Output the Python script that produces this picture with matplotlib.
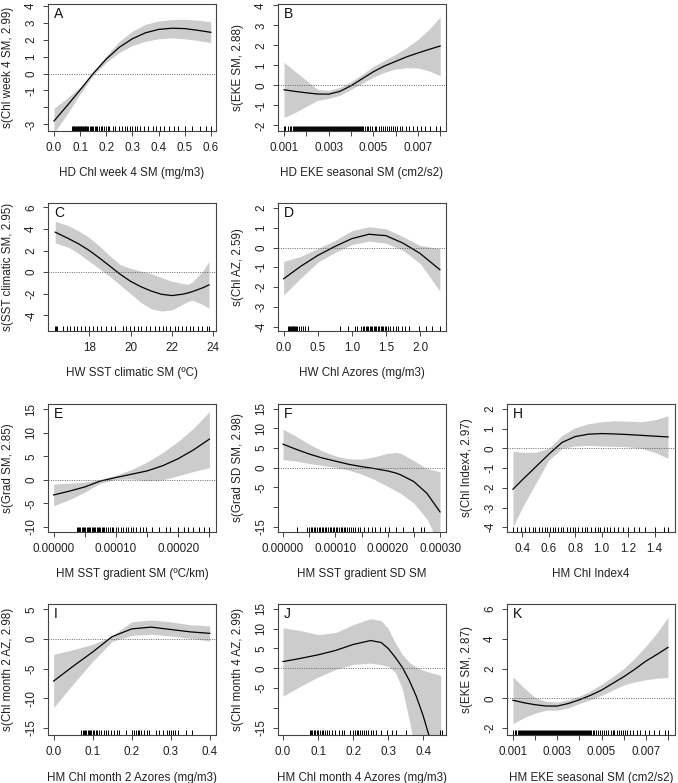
"""GAM partial-effect panels (A-K) in R plot.gam style."""

import matplotlib

matplotlib.use("Agg")
import matplotlib.pyplot as plt
import numpy as np

plt.rcParams["font.family"] = ["Liberation Sans", "DejaVu Sans"]

# ---- A: HD Chl week 4 SM
a_x = [0.0, 0.05, 0.1, 0.15, 0.2, 0.25, 0.3, 0.35, 0.4, 0.45, 0.5, 0.55, 0.6]
a_fit = [-2.8, -1.9, -0.97, 0.0, 0.85, 1.55, 2.05, 2.4, 2.6, 2.67, 2.65, 2.55, 2.43]
a_hi = [-2.05, -1.45, -0.8, 0.1, 1.05, 1.9, 2.5, 2.9, 3.1, 3.18, 3.2, 3.15, 3.05]
a_lo = [-3.5, -2.4, -1.2, -0.1, 0.65, 1.25, 1.65, 1.9, 2.05, 2.1, 2.05, 1.95, 1.82]
a_rug = [0.068, 0.072, 0.075, 0.078, 0.081, 0.084, 0.087, 0.09, 0.093, 0.096, 0.099,
         0.102, 0.105, 0.108, 0.111, 0.114, 0.117, 0.12, 0.124, 0.128, 0.132, 0.136,
         0.14, 0.145, 0.15, 0.155, 0.16, 0.166, 0.172, 0.178, 0.185, 0.19, 0.198, 0.205,
         0.212, 0.225, 0.235, 0.248, 0.262, 0.27, 0.28, 0.29, 0.3, 0.31, 0.318, 0.33,
         0.345, 0.36, 0.378, 0.39, 0.405, 0.42, 0.44, 0.458, 0.475, 0.5, 0.53, 0.56,
         0.58, 0.6]

# ---- B: HD EKE seasonal SM (x in 1e-4 units)
b_x = [10, 15, 20, 25, 30, 35, 40, 45, 50, 55, 60, 65, 70, 75, 80]
b_fit = [-0.22, -0.3, -0.37, -0.43, -0.44, -0.3, -0.02, 0.33, 0.68, 0.97, 1.2, 1.43, 1.62, 1.8, 1.97]
b_hi = [1.15, 0.7, 0.25, -0.2, -0.25, -0.1, 0.18, 0.55, 0.95, 1.25, 1.55, 1.9, 2.3, 2.8, 3.43]
b_lo = [-1.6, -1.35, -1.05, -0.75, -0.65, -0.5, -0.2, 0.1, 0.42, 0.65, 0.82, 0.88, 0.87, 0.72, 0.49]
b_rug = [10.0, 10.6, 11.9, 12.8, 13.3, 13.9, 14.4, 14.8, 15.3, 15.7, 16.2, 16.6, 17.1, 17.5,
         18.0, 18.4, 18.9, 19.3, 19.8, 20.2, 20.7, 21.1, 21.6, 22.0, 22.5, 22.9, 23.4, 23.8,
         24.3, 24.7, 25.2, 25.6, 26.1, 26.5, 27.0, 27.4, 27.9, 28.3, 28.8, 29.2, 29.7, 30.1,
         30.6, 31.0, 31.5, 31.9, 32.4, 32.8, 33.3, 33.7, 34.2, 34.6, 35.1, 35.5, 36.0, 36.4,
         36.9, 37.3, 37.8, 38.2, 38.7, 39.1, 39.6, 40.0, 40.5, 40.9, 41.4, 41.8, 42.3, 42.7,
         43.2, 43.6, 44.1, 44.5, 45.0, 45.6, 46.3, 47.0, 47.8, 48.6, 49.5, 50.6, 51.4, 52.5,
         53.3, 54.2, 55.3, 56.1, 57.0, 57.8, 58.9, 59.7, 60.8, 62.0, 63.1, 64.5, 66.2, 67.8,
         69.4, 71.5, 73.0, 75.5, 78.0, 80.0]

# ---- C: HW SST climatic SM
c_x = [16.35, 17, 17.5, 18, 18.5, 19, 19.5, 20, 20.5, 21, 21.5, 22, 22.5, 22.8, 23, 23.5, 23.8]
c_fit = [3.7, 3.1, 2.6, 2.0, 1.3, 0.55, -0.2, -0.85, -1.35, -1.75, -2.05, -2.17, -2.05, -1.92, -1.8, -1.45, -1.18]
c_hi = [4.7, 4.3, 3.8, 3.2, 2.4, 1.5, 0.7, 0.35, 0.1, -0.15, -0.5, -0.85, -1.05, -1.12, -0.9, 0.1, 1.0]
c_lo = [2.7, 2.3, 1.7, 1.0, 0.3, -0.4, -1.2, -2.0, -2.8, -3.4, -3.6, -3.5, -3.0, -2.7, -2.6, -3.0, -3.35]
c_rug = [16.32, 16.4, 16.46, 16.75, 16.91, 17.07, 17.26, 17.42, 17.58, 17.81, 18.0, 18.19,
         18.35, 18.59, 18.83, 19.07, 19.25, 19.63, 19.79, 19.98, 20.18, 20.35, 20.51, 20.75,
         20.94, 21.2, 21.39, 21.58, 21.71, 21.9, 22.13, 22.32, 22.48, 22.67, 22.86, 23.02,
         23.25, 23.47, 23.71, 23.79]

# ---- D: HW Chl Azores
d_x = [0.0, 0.25, 0.5, 0.75, 1.0, 1.25, 1.5, 1.75, 2.0, 2.29]
d_fit = [-1.58, -0.95, -0.4, 0.05, 0.45, 0.67, 0.6, 0.22, -0.3, -1.12]
d_hi = [-0.7, -0.45, -0.05, 0.35, 0.85, 1.05, 0.95, 0.55, 0.1, -0.05]
d_lo = [-2.4, -1.55, -0.75, -0.25, 0.15, 0.32, 0.22, -0.15, -0.8, -2.2]
d_rug = [0.06, 0.08, 0.1, 0.11, 0.12, 0.13, 0.14, 0.15, 0.17, 0.18, 0.2, 0.22, 0.25, 0.28,
         0.32, 0.36, 0.82, 0.95, 1.04, 1.08, 1.13, 1.16, 1.18, 1.2, 1.22, 1.24, 1.26, 1.28,
         1.3, 1.32, 1.34, 1.36, 1.38, 1.4, 1.42, 1.44, 1.46, 1.48, 1.5, 1.53, 1.56, 1.6,
         1.64, 1.68, 1.73, 1.78, 1.84, 1.98, 2.08, 2.18, 2.29]

# ---- E: HM SST gradient SM (x in 1e-5 units)
e_x = [0, 2.5, 5, 7.5, 10, 12.5, 15, 17.5, 20, 22.5, 25]
e_fit = [-3.2, -2.4, -1.5, -0.25, 0.5, 1.2, 1.9, 3.0, 4.5, 6.4, 8.65]
e_hi = [-0.9, -0.7, -0.5, 0.1, 1.0, 2.2, 3.8, 5.8, 8.2, 11.0, 14.5]
e_lo = [-5.5, -4.2, -2.6, -0.7, 0.1, 0.2, -0.2, 0.0, 0.9, 1.8, 2.6]
e_rug = [3.7, 3.9, 4.1, 4.3, 4.5, 4.7, 4.9, 5.1, 5.3, 5.5, 5.7, 5.9, 6.1, 6.3, 6.5, 6.7,
         6.9, 7.1, 7.3, 7.5, 7.7, 7.9, 8.1, 8.4, 8.7, 9.0, 9.3, 9.6, 10.0, 10.4, 10.8, 11.2,
         11.6, 12.0, 12.4, 12.8, 13.3, 13.8, 14.3, 14.8, 15.8, 16.9, 18.0, 18.6, 19.9, 21.0,
         21.6, 22.3, 23.3, 24.1, 24.9]

# ---- F: HM SST gradient SD SM (x in 1e-5 units)
f_x = [0, 2.5, 5, 7.5, 10, 12.5, 15, 17.5, 20, 21.5, 22.5, 25, 27.5, 30]
f_fit = [6.0, 4.7, 3.5, 2.5, 1.7, 0.9, 0.3, -0.2, -0.8, -1.3, -1.8, -3.5, -6.5, -11.2]
f_hi = [9.8, 8.0, 6.0, 4.3, 3.0, 2.3, 2.2, 2.8, 3.7, 3.9, 3.7, 1.8, -0.2, -1.0]
f_lo = [2.1, 1.7, 1.1, 0.6, 0.1, -0.6, -1.6, -3.0, -4.7, -5.8, -6.5, -9.0, -13.0, -20.0]
f_rug = [2.6, 4.5, 5.0, 5.3, 5.6, 5.9, 6.2, 6.5, 6.8, 7.1, 7.4, 7.7, 8.0, 8.3, 8.6, 8.9,
         9.2, 9.5, 9.8, 10.1, 10.4, 10.7, 11.0, 11.3, 11.6, 11.9, 12.2, 12.6, 13.0, 13.4,
         13.8, 14.3, 14.8, 15.5, 16.2, 17.0, 17.6, 18.5, 19.4, 20.3, 21.5, 23.0, 24.8,
         26.3, 27.0]

# ---- H: HM Chl Index4
h_x = [0.33, 0.4, 0.5, 0.6, 0.7, 0.8, 0.9, 1.0, 1.1, 1.2, 1.3, 1.4, 1.5]
h_fit = [-2.07, -1.6, -0.95, -0.3, 0.3, 0.6, 0.72, 0.75, 0.73, 0.7, 0.66, 0.62, 0.58]
h_hi = [-0.15, -0.2, -0.2, 0.0, 0.65, 1.05, 1.25, 1.35, 1.4, 1.38, 1.35, 1.45, 1.65]
h_lo = [-3.98, -3.0, -1.8, -0.6, 0.0, 0.12, 0.15, 0.12, 0.1, 0.08, 0.0, -0.2, -0.5]
h_rug = [0.33, 0.36, 0.39, 0.42, 0.45, 0.48, 0.5, 0.53, 0.55, 0.57, 0.59, 0.61, 0.63, 0.65,
         0.67, 0.69, 0.71, 0.74, 0.76, 0.78, 0.8, 0.82, 0.85, 0.87, 0.89, 0.92, 0.95, 0.97,
         0.99, 1.02, 1.04, 1.06, 1.09, 1.12, 1.16, 1.2, 1.24, 1.28, 1.33, 1.4, 1.47, 1.5]

# ---- I: HM Chl month 2 Azores
i_x = [0.0, 0.05, 0.1, 0.15, 0.2, 0.25, 0.3, 0.35, 0.4]
i_fit = [-7.1, -4.6, -2.2, 0.4, 1.7, 2.0, 1.6, 1.2, 0.95]
i_hi = [-2.6, -1.8, -0.9, 0.5, 2.9, 3.2, 2.9, 2.4, 2.2]
i_lo = [-11.6, -7.6, -3.8, -0.4, 0.6, 0.8, 0.5, 0.1, -0.35]
i_rug = [0.07, 0.075, 0.078, 0.081, 0.084, 0.087, 0.09, 0.093, 0.096, 0.1, 0.104, 0.108,
         0.112, 0.117, 0.122, 0.128, 0.134, 0.14, 0.148, 0.155, 0.162, 0.168, 0.185, 0.2,
         0.205, 0.21, 0.215, 0.22, 0.225, 0.232, 0.24, 0.245, 0.262, 0.27, 0.28, 0.29,
         0.295, 0.3, 0.305, 0.31, 0.318, 0.338, 0.355]

# ---- J: HM Chl month 4 Azores
j_x = [0.0, 0.05, 0.1, 0.15, 0.2, 0.25, 0.28, 0.3, 0.32, 0.34, 0.36, 0.38, 0.4, 0.415, 0.43, 0.45]
j_fit = [1.7, 2.5, 3.4, 4.5, 6.0, 7.0, 6.5, 5.0, 2.8, 0.3, -3.0, -7.0, -12.0, -16.5, -21.0, -28.0]
j_hi = [10.2, 9.5, 8.5, 9.0, 11.0, 12.5, 12.0, 10.0, 6.5, 3.5, 1.5, 0.3, -0.5, -0.9, -1.3, -1.8]
j_lo = [-7.0, -4.5, -2.2, -0.3, 1.0, 1.3, 0.9, 0.5, -1.0, -5.0, -13.0, -22.0, -32.0, -38.0, -44.0, -50.0]
j_rug = [0.076, 0.08, 0.084, 0.088, 0.092, 0.096, 0.1, 0.105, 0.11, 0.115, 0.12, 0.126,
         0.132, 0.14, 0.148, 0.16, 0.168, 0.175, 0.19, 0.2, 0.205, 0.21, 0.215, 0.22, 0.225,
         0.23, 0.236, 0.242, 0.25, 0.258, 0.265, 0.28, 0.298, 0.31, 0.322, 0.352, 0.448, 0.454]

# ---- K: HM EKE seasonal SM (x in 1e-4 units)
k_x = [10, 15, 20, 25, 30, 35, 40, 45, 50, 55, 60, 65, 70, 75, 80]
k_fit = [-0.13, -0.3, -0.43, -0.52, -0.52, -0.35, -0.1, 0.2, 0.55, 1.0, 1.45, 1.95, 2.5, 2.95, 3.43]
k_hi = [1.45, 0.7, 0.05, -0.2, -0.25, -0.1, 0.15, 0.5, 0.95, 1.45, 2.0, 2.7, 3.5, 4.4, 5.45]
k_lo = [-1.7, -1.3, -1.0, -0.8, -0.8, -0.65, -0.35, -0.1, 0.2, 0.55, 0.9, 1.1, 1.25, 1.35, 1.4]
k_rug = [10.0, 10.7, 11.5, 12.1, 12.6, 13.0, 13.5, 13.9, 14.4, 14.8, 15.3, 15.7, 16.2, 16.6,
         17.1, 17.6, 18.0, 18.5, 18.9, 19.4, 19.8, 20.3, 20.8, 21.2, 21.7, 22.1, 22.6, 23.0,
         23.5, 23.9, 24.4, 24.8, 25.3, 25.7, 26.2, 26.6, 27.1, 27.6, 28.0, 28.5, 28.9, 29.4,
         29.8, 30.3, 30.7, 31.2, 31.6, 32.1, 32.5, 33.0, 33.4, 33.9, 34.3, 34.8, 35.2, 35.7,
         36.1, 36.6, 37.0, 37.5, 37.9, 38.4, 38.8, 39.3, 39.7, 40.2, 40.6, 41.1, 41.5, 42.0,
         42.4, 42.9, 43.3, 43.8, 44.2, 44.7, 45.3, 46.0, 46.8, 47.5, 48.4, 49.3, 50.1, 51.0,
         52.2, 53.0, 54.1, 55.0, 55.8, 56.9, 57.7, 58.8, 59.6, 60.5, 61.7, 63.0, 64.3, 66.0,
         67.5, 69.5, 71.3, 73.5, 76.0, 78.5, 80.0]

W, H = 678, 783
COL_X = [48, 278, 507]
COL_W = 168
ROW_Y = [(4, 131), (203, 331), (404, 532), (604, 735)]
FS = 8.4


def _panel(letter, row, col, x, fit, lo, hi, rug, scale, xlim, ylim,
           xticks, xlabels, yticks, ylabels, xlab, ylab):
    top, bot = ROW_Y[row]
    ax = fig.add_axes([COL_X[col] / W, 1 - bot / H, COL_W / W, (bot - top) / H])
    x = np.asarray(x) * scale
    ax.fill_between(x, lo, hi, color="#cccccc", lw=0)
    ax.plot(x, fit, color="black", lw=0.9)
    ax.axhline(0, color="#555555", lw=0.6, ls=(0, (1.2, 1.6)))
    ax.vlines(np.asarray(rug) * scale, 0, 0.038, transform=ax.get_xaxis_transform(),
              color="black", lw=0.7)
    ax.set_xlim(xlim)
    ax.set_ylim(ylim)
    ax.set_xticks(xticks)
    ax.set_xticklabels(xlabels)
    ax.set_yticks(yticks)
    ax.set_yticklabels(ylabels, rotation=90, va="center")
    for sp in ax.spines.values():
        sp.set_color("#444444")
        sp.set_linewidth(0.8)
    ax.tick_params(direction="out", length=3.8, width=0.7, color="#444444",
                   labelsize=FS, labelcolor="#222222", pad=4.0)
    ax.set_xlabel(xlab, fontsize=FS, color="#222222")
    ax.set_ylabel(ylab, fontsize=FS, color="#222222")
    ax.xaxis.set_label_coords(0.5, -0.28)
    ax.yaxis.set_label_coords(-0.2, 0.5)
    ax.text(0.035, 0.975, letter, transform=ax.transAxes, ha="left", va="top",
            fontsize=10, color="#111111")
    return ax


def _labels(vals, fmt, skip=()):
    return ["" if i in skip else fmt.format(v) for i, v in enumerate(vals)]


fig = plt.figure(figsize=(W / 100, H / 100), dpi=100)

t = [0.0, 0.1, 0.2, 0.3, 0.4, 0.5, 0.6]
yt = [-3, -2, -1, 0, 1, 2, 3, 4]
_panel("A", 0, 0, a_x, a_fit, a_lo, a_hi, a_rug, 1.0, (-0.023, 0.62), (-3.39, 4.1),
       t, _labels(t, "{:.1f}"), yt, _labels(yt, "{}", skip=(1,)),
       "HD Chl week 4 SM (mg/m3)", "s(Chl week 4 SM, 2.99)")

t = [0.001, 0.002, 0.003, 0.004, 0.005, 0.006, 0.007, 0.008]
yt = [-2, -1, 0, 1, 2, 3, 4]
_panel("B", 0, 1, b_x, b_fit, b_lo, b_hi, b_rug, 1e-4, (0.00073, 0.00826), (-2.28, 4.07),
       t, _labels(t, "{:.3f}", skip=(1, 3, 5, 7)), yt, _labels(yt, "{}"),
       "HD EKE seasonal SM (cm2/s2)", "s(EKE SM, 2.88)")

t = [18, 20, 22, 24]
yt = [-4, -2, 0, 2, 4, 6]
_panel("C", 1, 0, c_x, c_fit, c_lo, c_hi, c_rug, 1.0, (16.0, 24.14), (-5.45, 6.4),
       t, _labels(t, "{}"), yt, _labels(yt, "{}"),
       "HW SST climatic SM (ºC)", "s(SST climatic SM, 2.95)")

t = [0.0, 0.5, 1.0, 1.5, 2.0]
yt = [-4, -3, -2, -1, 0, 1, 2]
_panel("D", 1, 1, d_x, d_fit, d_lo, d_hi, d_rug, 1.0, (-0.083, 2.38), (-4.22, 2.25),
       t, _labels(t, "{:.1f}"), yt, _labels(yt, "{}"),
       "HW Chl Azores (mg/m3)", "s(Chl AZ, 2.59)")

t = [0.0, 0.00005, 0.0001, 0.00015, 0.0002, 0.00025]
yt = [-10, -5, 0, 5, 10, 15]
_panel("E", 2, 0, e_x, e_fit, e_lo, e_hi, e_rug, 1e-5, (-0.000009, 0.0002606), (-11.06, 16.1),
       t, _labels(t, "{:.5f}", skip=(1, 3, 5)), yt, _labels(yt, "{}"),
       "HM SST gradient SM (ºC/km)", "s(Grad SM, 2.85)")

t = [0.0, 0.00005, 0.0001, 0.00015, 0.0002, 0.00025, 0.0003]
yt = [-15, -10, -5, 0, 5, 10, 15]
_panel("F", 2, 1, f_x, f_fit, f_lo, f_hi, f_rug, 1e-5, (-0.0000096, 0.0003114), (-16.3, 16.2),
       t, _labels(t, "{:.5f}", skip=(1, 3, 5)), yt, _labels(yt, "{}", skip=(1,)),
       "HM SST gradient SD SM", "s(Grad SD SM, 2.98)")

t = [0.4, 0.6, 0.8, 1.0, 1.2, 1.4]
yt = [-4, -3, -2, -1, 0, 1, 2]
_panel("H", 2, 2, h_x, h_fit, h_lo, h_hi, h_rug, 1.0, (0.285, 1.553), (-4.24, 2.25),
       t, _labels(t, "{:.1f}"), yt, _labels(yt, "{}"),
       "HM Chl Index4", "s(Chl Index4, 2.97)")

t = [0.0, 0.1, 0.2, 0.3, 0.4]
yt = [-15, -10, -5, 0, 5]
_panel("I", 3, 0, i_x, i_fit, i_lo, i_hi, i_rug, 1.0, (-0.0144, 0.416), (-16.2, 5.9),
       t, _labels(t, "{:.1f}"), yt, _labels(yt, "{}"),
       "HM Chl month 2 Azores (mg/m3)", "s(Chl month 2 AZ, 2.98)")

t = [0.0, 0.1, 0.2, 0.3, 0.4]
yt = [-15, -10, -5, 0, 5, 10, 15]
_panel("J", 3, 1, j_x, j_fit, j_lo, j_hi, j_rug, 1.0, (-0.0143, 0.465), (-16.8, 16.2),
       t, _labels(t, "{:.1f}"), yt, _labels(yt, "{}", skip=(1,)),
       "HM Chl month 4 Azores (mg/m3)", "s(Chl month 4 AZ, 2.99)")

t = [0.001, 0.002, 0.003, 0.004, 0.005, 0.006, 0.007, 0.008]
yt = [-2, 0, 2, 4, 6]
_panel("K", 3, 2, k_x, k_fit, k_lo, k_hi, k_rug, 1e-4, (0.00073, 0.00832), (-2.47, 6.35),
       t, _labels(t, "{:.3f}", skip=(1, 3, 5, 7)), yt, _labels(yt, "{}"),
       "HM EKE seasonal SM (cm2/s2)", "s(EKE SM, 2.87)")

fig.savefig("out.png", dpi=100)
